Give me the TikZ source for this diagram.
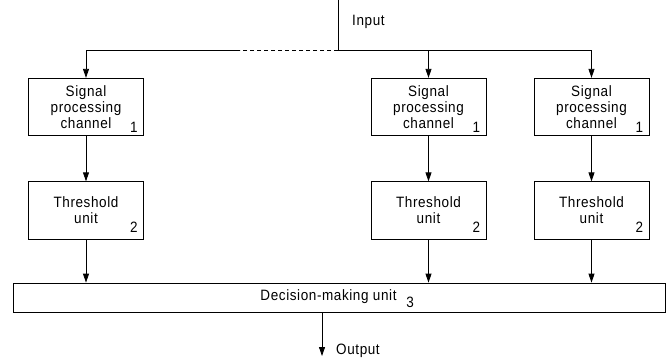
\documentclass[tikz,border=0pt]{standalone}
\usepackage{fontspec}
\setmainfont{Liberation Sans}[FakeStretch=0.9,LetterSpace=4]
\usetikzlibrary{arrows.meta}
\begin{document}
\begin{tikzpicture}[x=1pt,y=-1pt,
  every node/.style={font=\fontsize{15}{16}\selectfont},
  blk/.style={draw, line width=0.8pt, minimum width=115pt, minimum height=57.5pt, inner sep=0pt, align=center},
  num/.style={inner sep=0pt, anchor=base east},
  wire/.style={line width=0.8pt},
  arr/.style={line width=0.8pt, -{Triangle[length=9pt,width=6pt]}}]
\useasboundingbox (0,0) rectangle (669,360);
% boxes
\node[blk] (s1) at (86,107) {Signal\\processing\\channel};
\node[blk] (s2) at (428.5,107) {Signal\\processing\\channel};
\node[blk] (s3) at (591.5,107) {Signal\\processing\\channel};
\node[blk] (t1) at (86,210.5) {Threshold\\unit};
\node[blk] (t2) at (428.5,210.5) {Threshold\\unit};
\node[blk] (t3) at (591.5,210.5) {Threshold\\unit};
\node[draw, line width=0.8pt, minimum width=652pt, minimum height=29pt, inner sep=0pt] (d) at (339,297.5) {};
\node[inner sep=0pt] (dt) at (328.5,297) {Decision-making unit};
\node[num] (d3) at (414,307) {3};
% numbers
\foreach \b in {s1,s2,s3}{\node[num] (\b n) at ([xshift=-6pt,yshift=4pt]\b.south east) {1};}
\foreach \b in {t1,t2,t3}{\node[num] (\b n) at ([xshift=-6pt,yshift=7pt]\b.south east) {2};}
% input
\coordinate (in) at (338,0);
\coordinate (j) at (338,50);
\coordinate (jd) at (240,50);
\coordinate (jl) at (86,50);
\coordinate (jm) at (428.5,50);
\coordinate (jr) at (591.5,50);
\node[anchor=base west, inner sep=0pt] (inl) at (352,25) {Input};
\draw[wire] (in) -- (j) -- (jr);
\draw[wire, dash pattern=on 4pt off 3pt] (j) -- (jd);
\draw[wire] (jd) -- (jl);
\draw[arr] (jl) -- (s1.north);
\draw[arr] (jm) -- (s2.north);
\draw[arr] (jr) -- (s3.north);
% to threshold
\draw[arr] (s1) -- (t1);
\draw[arr] (s2) -- (t2);
\draw[arr] (s3) -- (t3);
% to decision
\draw[arr] (t1.south) -- (t1.south |- d.north);
\draw[arr] (t2.south) -- (t2.south |- d.north);
\draw[arr] (t3.south) -- (t3.south |- d.north);
% output
\coordinate (o1) at (322,312.5);
\coordinate (o2) at (322,356);
\draw[arr] (o1) -- (o2);
\node[anchor=base west, inner sep=0pt] (out) at (336,354) {Output};
\end{tikzpicture}
\end{document}
